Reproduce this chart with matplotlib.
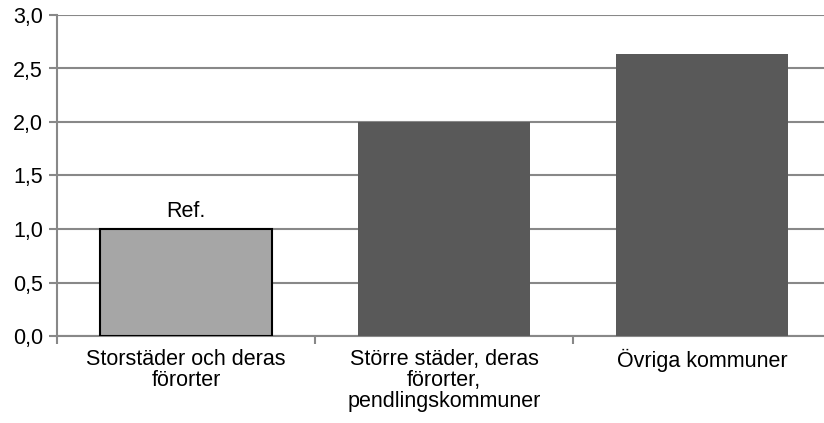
import matplotlib.pyplot as plt
from matplotlib.ticker import FixedLocator, FuncFormatter

categories = ['Storstäder och deras\nförorter',
              'Större städer, deras\nförorter,\npendlingskommuner',
              'Övriga kommuner']
values = [1.0, 2.0, 2.64]
bar_colors = ['#a6a6a6', '#595959', '#595959']
edge_colors = ['black', 'none', 'none']
yticks = [0.0, 0.5, 1.0, 1.5, 2.0, 2.5, 3.0]

plt.rcParams['font.family'] = ['Liberation Sans', 'DejaVu Sans']
FS = 15.5

fig = plt.figure(figsize=(8.24, 4.23), dpi=100)
ax = fig.add_axes([57 / 824, 87 / 423, 774 / 824, 321 / 423])

grid_color = '#888888'
x = list(range(len(categories)))
ax.bar(x, values, width=0.667, color=bar_colors, edgecolor=edge_colors,
       linewidth=1.5, zorder=3)
ax.text(0, values[0] + 0.07, 'Ref.', ha='center', va='bottom', fontsize=FS)

ax.set_xlim(-0.5, 2.5)
ax.set_ylim(0, 3.0)
ax.set_yticks(yticks)
ax.yaxis.set_major_formatter(FuncFormatter(lambda v, p: f'{v:.1f}'.replace('.', ',')))
ax.yaxis.grid(True, color=grid_color, linewidth=1.5, zorder=0)

# category boundaries get the tick marks, centres get the labels
ax.xaxis.set_major_locator(FixedLocator([-0.5, 0.5, 1.5, 2.5]))
ax.xaxis.set_major_formatter(FuncFormatter(lambda v, p: ''))
ax.xaxis.set_minor_locator(FixedLocator(x))
ax.set_xticklabels(categories, minor=True, fontsize=FS, linespacing=1.0)
ax.tick_params(axis='x', which='minor', length=0, pad=9)
ax.tick_params(axis='x', which='major', length=6, width=1.5, color=grid_color)
ax.tick_params(axis='y', length=6, width=1.5, color=grid_color,
               labelsize=FS, pad=4)

for side in ['top', 'right']:
    ax.spines[side].set_visible(False)
for side in ['left', 'bottom']:
    ax.spines[side].set_color(grid_color)
    ax.spines[side].set_linewidth(1.5)

fig.savefig('out.png', dpi=100)
